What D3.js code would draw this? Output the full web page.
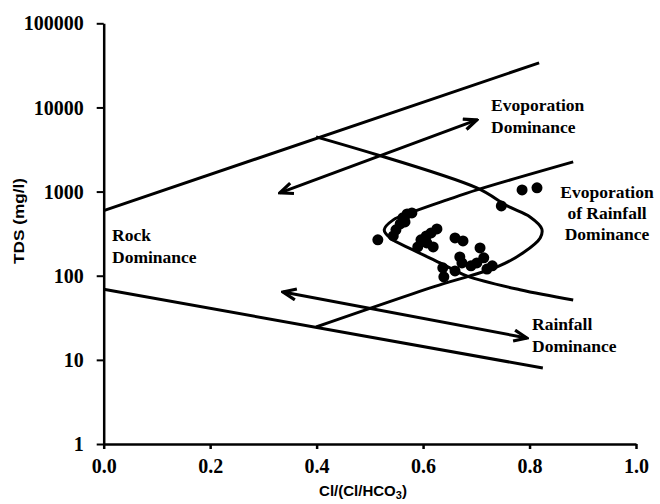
<!DOCTYPE html>
<html>
<head>
<meta charset="utf-8">
<script src="https://cdn.jsdelivr.net/npm/d3@7"></script>
<style>
  body { margin: 0; background: #fff; }
  .tick text { font-family: "Liberation Serif", "Times New Roman", serif; font-weight: bold; font-size: 20px; fill: #000; }
  .lbl { font-family: "Liberation Serif", "Times New Roman", serif; font-weight: bold; font-size: 17.5px; fill: #000; }
  .ttl { font-family: "Liberation Sans", Arial, sans-serif; font-weight: bold; font-size: 15px; fill: #000; }
</style>
</head>
<body>
<div id="app"></div>
<script>
// sample points, Cl/(Cl+HCO3) vs TDS
const ratio = [0.515, 0.544, 0.557, 0.562, 0.570, 0.579, 0.566, 0.549, 0.590, 0.596,
               0.606, 0.615, 0.626, 0.607, 0.619, 0.660, 0.675, 0.669, 0.673, 0.707,
               0.714, 0.701, 0.690, 0.637, 0.639, 0.660, 0.720, 0.730, 0.747, 0.786, 0.814];
const tds = [267, 297, 413, 487, 543, 558, 436, 351, 220, 267,
             297, 323, 360, 245, 220, 281, 259, 167, 142, 214,
             163, 142, 131, 124, 97, 114, 120, 131, 676, 1047, 1107];

// boundary lines of the gibbs plot
const upperX = [0, 0.818], upperY = [594, 33900];
const lowerX = [0, 0.825], lowerY = [69, 8];
// ">" curve (from top-left, round nose on the right, back to bottom-left)
const rightNoseX = [0.399, 0.701, 0.758, 0.801, 0.823, 0.820, 0.788, 0.739, 0.688, 0.637, 0.399];
const rightNoseY = [4470, 1107, 676, 500, 360, 281, 187, 127, 99.5, 80, 24.6];
// "<" curve (from top-right, round nose on the left, back to bottom-right)
const leftNoseX = [0.882, 0.701, 0.645, 0.581, 0.544, 0.527, 0.538, 0.581, 0.632, 0.682, 0.782, 0.882];
const leftNoseY = [2255, 1047, 796, 574, 461, 351, 281, 203, 142, 99.5, 68, 51.5];
// double headed arrows
const evapArrowX = [0.331, 0.701], evapArrowY = [966, 7120];
const rainArrowX = [0.337, 0.795], rainArrowY = [64, 18.2];

const xTicks = [0, 0.2, 0.4, 0.6, 0.8, 1.0];
const yTicks = [1, 10, 100, 1000, 10000, 100000];

var w = 660, h = 504;
const svg = d3.select("#app").append("svg")
  .attr("width", w)
  .attr("height", h)

const x = d3.scaleLinear().domain([0, 1]).range([103.7, 636])
const y = d3.scaleLog().domain([1, 100000]).range([444, 23.3])

const defs = svg.append("defs")
defs.append("marker")
  .attr("id", "head")
  .attr("viewBox", "0 0 16 14")
  .attr("refX", 14).attr("refY", 7)
  .attr("markerWidth", 16).attr("markerHeight", 14)
  .attr("markerUnits", "userSpaceOnUse")
  .attr("orient", "auto-start-reverse")
  .append("path")
  .attr("d", "M1,1.5 L14,7 L1,12.5")
  .attr("fill", "none")
  .attr("stroke", "#000")
  .attr("stroke-width", 3.2)

const pairs = (xs, ys) => xs.map((v, i) => [v, ys[i]])
const straight = d3.line().x(d => x(d[0])).y(d => y(d[1]))
const smooth = d3.line().x(d => x(d[0])).y(d => y(d[1])).curve(d3.curveCatmullRom.alpha(0.5))

const g = svg.append("g")
g.append("path").attr("d", straight(pairs(upperX, upperY)))
g.append("path").attr("d", straight(pairs(lowerX, lowerY)))
g.append("path").attr("d", smooth(pairs(rightNoseX, rightNoseY)))
g.append("path").attr("d", smooth(pairs(leftNoseX, leftNoseY)))
g.selectAll("path").attr("fill", "none").attr("stroke", "#000").attr("stroke-width", 3)

svg.append("path").attr("d", straight(pairs(evapArrowX, evapArrowY)))
  .attr("fill", "none").attr("stroke", "#000").attr("stroke-width", 3)
  .attr("marker-start", "url(#head)").attr("marker-end", "url(#head)")
svg.append("path").attr("d", straight(pairs(rainArrowX, rainArrowY)))
  .attr("fill", "none").attr("stroke", "#000").attr("stroke-width", 3)
  .attr("marker-start", "url(#head)").attr("marker-end", "url(#head)")

svg.selectAll(".dot")
  .data(pairs(ratio, tds))
  .enter()
  .append("circle")
  .attr("class", "dot")
  .attr("cx", d => x(d[0]))
  .attr("cy", d => y(d[1]))
  .attr("r", 5.5)
  .attr("fill", "#000")

// axes
const xAxis = d3.axisBottom(x).tickValues(xTicks).tickFormat(d3.format(".1f")).tickSize(5).tickSizeOuter(0)
const yAxis = d3.axisLeft(y).tickValues(yTicks).tickFormat(d3.format("d")).tickSize(7).tickSizeOuter(0)

const gx = svg.append("g").attr("transform", "translate(0," + y(1) + ")").call(xAxis)
const gy = svg.append("g").attr("transform", "translate(" + x(0) + ",0)").call(yAxis)
gx.select(".domain").attr("stroke-width", 2.5)
gy.select(".domain").attr("stroke-width", 2.5)
gx.selectAll(".tick line").attr("stroke-width", 2.5)
gy.selectAll(".tick line").attr("stroke-width", 2)
gx.selectAll(".tick text").attr("dy", "1.05em")
gy.selectAll(".tick text").attr("dx", "-0.5em").attr("dy", "0.33em")

// labels
const label = (lines, tx, ty, anchor, step) => {
  const t = svg.append("text").attr("class", "lbl").attr("text-anchor", anchor || "start")
  lines.forEach((s, i) => t.append("tspan").attr("x", tx).attr("y", ty + i * (step || 22)).text(s))
}
label(["Evoporation", "Dominance"], 491, 111)
label(["Evoporation", "of Rainfall", "Dominance"], 607, 198, "middle", 21)
label(["Rock", "Dominance"], 112, 241)
label(["Rainfall", "Dominance"], 532, 330)

svg.append("text").attr("class", "ttl")
  .attr("transform", "translate(24,221) rotate(-90)")
  .attr("text-anchor", "middle")
  .attr("textLength", 86)
  .attr("lengthAdjust", "spacingAndGlyphs")
  .text("TDS (mg/l)")

const xt = svg.append("text").attr("class", "ttl")
  .attr("x", 363).attr("y", 496)
  .attr("text-anchor", "middle")
xt.append("tspan").text("Cl/(Cl/HCO")
xt.append("tspan").attr("dy", 3).attr("font-size", "11px").text("3")
xt.append("tspan").attr("dy", -3).text(")")
</script>
</body>
</html>
